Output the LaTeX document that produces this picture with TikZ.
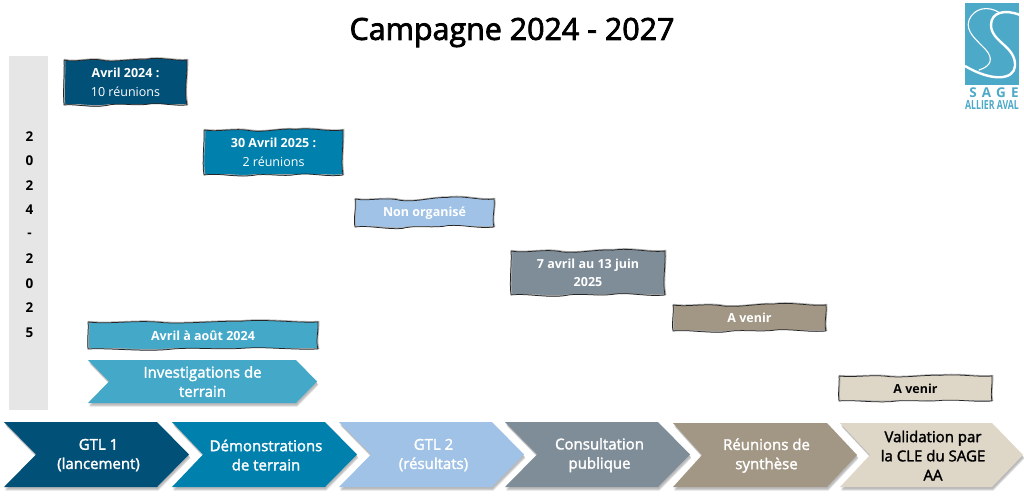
\documentclass[tikz,border=0pt]{standalone}
\usepackage{fontspec}
\setmainfont{Open Sans}
\usetikzlibrary{calc}
\definecolor{cA}{HTML}{005078}
\definecolor{cB}{HTML}{0080AD}
\definecolor{cC}{HTML}{A0C2E6}
\definecolor{cD}{HTML}{7F8D98}
\definecolor{cE}{HTML}{A29684}
\definecolor{cF}{HTML}{DED7C8}
\definecolor{cG}{HTML}{44A8C8}
\definecolor{cBar}{HTML}{E6E6E6}
\definecolor{cLogo}{HTML}{4DA9C8}
\pgfmathsetseed{7}
\tikzset{
  x=1pt,y=-1pt,
  wobbletext/.style={align=center,inner sep=0pt,font=\fontsize{12.5}{18.5}\selectfont\bfseries},
  chevtext/.style={align=center,font=\fontsize{15}{19.2}\selectfont\addfontfeature{FakeBold=2},inner sep=0pt},
  yeardigit/.style={font=\fontsize{13.5}{13}\selectfont\bfseries,text=black,inner sep=0pt},
  logotext/.style={text=cLogo,inner sep=0pt},
  logoline/.style={draw=white,line cap=round,line join=round},
}
% #1 name #2 left #3 notch #4 shoulder #5 tip #6 top #7 bottom #8 colour
\newcommand{\chevshape}[8]{%
  \foreach \o/\d in {.07/1.5,.10/2.5,.13/3.5}{%
    \fill[black,opacity=\o]
      (#2+\d*.4,#6+\d) -- (#4+\d*.4,#6+\d) -- (#5+\d*.4,{(#6+#7)/2+\d}) -- (#4+\d*.4,#7+\d) -- (#2+\d*.4,#7+\d) -- (#3+\d*.4,{(#6+#7)/2+\d}) -- cycle;}%
  \fill[#8] (#2,#6) -- (#4,#6) -- (#5,{(#6+#7)/2}) -- (#4,#7) -- (#2,#7) -- (#3,{(#6+#7)/2}) -- cycle;
  \coordinate (#1) at ({(#3+#4)/2+2},{(#6+#7)/2+.6});
}
% wavy outline between two corners
\newcommand{\wavy}[4]{%
  (#1,#2)
  .. controls ({#1+(#3-#1)*.10},{#2+\ra}) and ({#1+(#3-#1)*.22},{#2-\ra}) .. ({#1+(#3-#1)*.33},{#2+\rb})
  .. controls ({#1+(#3-#1)*.44},{#2+\rb+\rc}) and ({#1+(#3-#1)*.55},{#2-\rc}) .. ({#1+(#3-#1)*.66},{#2-\rb})
  .. controls ({#1+(#3-#1)*.78},{#2-\rb-\ra}) and ({#1+(#3-#1)*.90},{#2+\rc}) .. (#3,#2)
  .. controls ({#3+\rb},{#2+(#4-#2)*.3}) and ({#3-\ra},{#2+(#4-#2)*.7}) .. (#3,#4)
  .. controls ({#3-(#3-#1)*.12},{#4+\rc}) and ({#3-(#3-#1)*.22},{#4-\ra}) .. ({#3-(#3-#1)*.33},{#4-\rb})
  .. controls ({#3-(#3-#1)*.44},{#4+\rc}) and ({#3-(#3-#1)*.55},{#4-\ra}) .. ({#3-(#3-#1)*.66},{#4+\rb})
  .. controls ({#3-(#3-#1)*.78},{#4+\ra}) and ({#3-(#3-#1)*.9},{#4-\rc}) .. (#1,#4)
  .. controls ({#1-\rc},{#4-(#4-#2)*.3}) and ({#1+\rb},{#4-(#4-#2)*.7}) .. (#1,#2) -- cycle}
\newcommand{\wobblebox}[8]{%
  \pgfmathsetmacro{\ra}{1.6+rnd*1.6}\pgfmathsetmacro{\rb}{.5+rnd*1}\pgfmathsetmacro{\rc}{1+rnd*1.5}%
  \fill[#6] \wavy{#2}{#3}{#4}{#5};
  \draw[gray!65,line width=.9pt,shift={(.8,-.7)}] \wavy{#2}{#3}{#4}{#5};
  \fill[#6] (#2+1.5,#3+1.5) rectangle (#4-1.5,#5-1.5);
  \draw[black!85,line width=.75pt] \wavy{#2}{#3}{#4}{#5};
  \node[wobbletext,text=#7] (#1) at ({(#2+#4)/2},{(#3+#5)/2}) {#8};}
\begin{document}
\begin{tikzpicture}
\useasboundingbox (0,0) rectangle (1024,499);
\fill[white] (0,0) rectangle (1024,499);
% title
\node[inner sep=0pt,font=\fontsize{30.4}{32}\selectfont\addfontfeature{FakeBold=2.5}] (title) at (512,32.5) {Campagne 2024 - 2027};
% side bar
\fill[cBar] (9,56) rectangle (48,410);
\foreach \d/\y [count=\i] in {2/137,0/161,2/186,4/210,-/235,2/259,0/284,2/308,5/333}
  \node[yeardigit] (digit\i) at (29.5,\y) {\d};
% logo
\fill[cLogo] (965,3) rectangle (1019,85);
\begin{scope}
\clip (965,3) rectangle (1019,85);
\draw[logoline,line width=2.4pt,line cap=butt] (1020,15) .. controls (1005,9) and (991,12) .. (991,25)
  .. controls (991,42) and (1016,46) .. (1015,66) .. controls (1014,80) and (992,82) .. (965,66);
\draw[logoline,line width=1.1pt] (1000,13) .. controls (988,5) and (974,8) .. (969,20)
  .. controls (965,32) and (977,40) .. (986,50) .. controls (993,58) and (992,66) .. (979,70);
\end{scope}
\node[logotext,font=\fontsize{13.5}{13}\selectfont\bfseries\addfontfeature{LetterSpace=38}] (logosage) at (994,92.5) {SAGE};
\node[logotext,font=\fontsize{12.5}{12}\selectfont\bfseries] (logoaval) at (992,105) {\scalebox{.7}[1]{ALLIER AVAL}};
% date boxes
\wobblebox{b1}{64}{60}{187}{105}{cA}{white}{Avril 2024 :\\\mdseries 10 réunions}
\wobblebox{b2}{204}{130}{343}{175}{cB}{white}{30 Avril 2025 :\\\mdseries 2 réunions}
\wobblebox{b3}{355}{199}{494}{227}{cC}{white}{Non organisé}
\wobblebox{b4}{511}{251}{665}{295}{cD}{white}{7 avril au 13 juin\\2025}
\wobblebox{b5}{673}{305}{826}{331}{cE}{white}{A venir}
\wobblebox{b6}{839}{376}{992}{401}{cF}{black}{A venir}
\wobblebox{b7}{88}{322}{318}{349}{cG}{white}{Avril à août 2024}
% investigations
\chevshape{cI}{88}{109}{296}{317}{360}{403}{cG}
\node[chevtext,text=white] (tI) at ($(cI)+(-2,-.5)$) {Investigations de\\terrain};
% main chevrons
\chevshape{c1}{4}{36}{157}{189}{422}{487}{cA}
\chevshape{c2}{172}{203}{325}{357}{422}{487}{cB}
\chevshape{c3}{339}{371}{492}{524}{422}{487}{cC}
\chevshape{c4}{505}{537}{658}{690}{422}{487}{cD}
\chevshape{c5}{673}{702}{827}{857}{423}{487}{cE}
\chevshape{c6}{840}{870}{992}{1023}{423}{487}{cF}
\node[chevtext,text=white] (t1) at (c1) {GTL 1\\(lancement)};
\node[chevtext,text=white] (t2) at (c2) {Démonstrations\\de terrain};
\node[chevtext,text=white] (t3) at (c3) {GTL 2\\(résultats)};
\node[chevtext,text=white] (t4) at (c4) {Consultation\\publique};
\node[chevtext,text=white] (t5) at (c5) {Réunions de\\synthèse};
\node[chevtext,text=black] (t6) at (c6) {Validation par\\la CLE du SAGE\\AA};
\end{tikzpicture}
\end{document}
